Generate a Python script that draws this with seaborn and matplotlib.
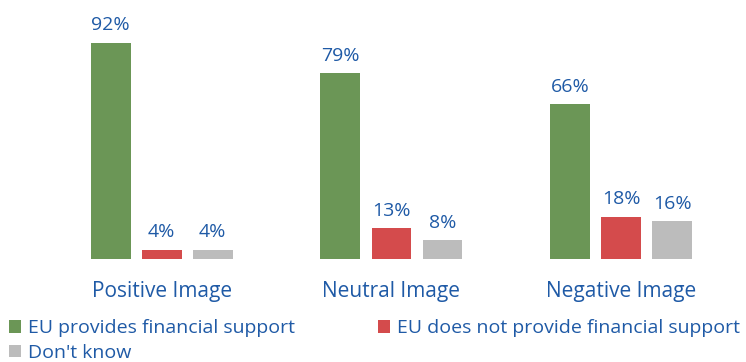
import matplotlib
matplotlib.use("Agg")
import matplotlib.pyplot as plt
import seaborn as sns
import pandas as pd

categories = ["Positive Image", "Neutral Image", "Negative Image"]
series = ["EU provides financial support", "EU does not provide financial support", "Don't know"]
provides = [92, 79, 66]
not_provide = [4, 13, 18]
dont_know = [4, 8, 16]
colors = ["#6b9656", "#d44b4c", "#bcbcbc"]
text_blue = "#1f5aa6"

rows = []
for s, vals in zip(series, [provides, not_provide, dont_know]):
    for c, v in zip(categories, vals):
        rows.append({"cat": c, "series": s, "value": v})
df = pd.DataFrame(rows)

sns.set_theme(style="white")
plt.rcParams["font.family"] = ["Open Sans", "DejaVu Sans"]

fig = plt.figure(figsize=(7.46, 3.62), dpi=100)
ax = fig.add_axes([0, 0.2845, 1, 0.6492])
sns.barplot(data=df, x="cat", y="value", hue="series", hue_order=series,
            palette=colors, width=0.666, gap=0.216, saturation=1, ax=ax,
            errorbar=None, linewidth=0)
ax.set_xlim(-0.704, 2.543)
ax.set_ylim(0, 100)
for cont in ax.containers:
    ax.bar_label(cont, fmt="%g%%", padding=6, color=text_blue, fontsize=14)
ax.set_xlabel("")
ax.set_ylabel("")
ax.set_yticks([])
ax.tick_params(axis="x", length=0, pad=16, labelsize=15, labelcolor=text_blue)
for sp in ax.spines.values():
    sp.set_visible(False)

handles, labels = ax.get_legend_handles_labels()
ax.get_legend().remove()
order = [0, 2, 1]
fig.legend([handles[i] for i in order], [labels[i] for i in order],
           ncol=2, loc="upper left", bbox_to_anchor=(0.012, 0.118),
           frameon=False, fontsize=14, labelcolor=text_blue,
           handlelength=0.6, handleheight=0.6, handletextpad=0.4,
           columnspacing=4.25, labelspacing=0.35, borderaxespad=0, borderpad=0)
fig.savefig("out.png", dpi=100)
